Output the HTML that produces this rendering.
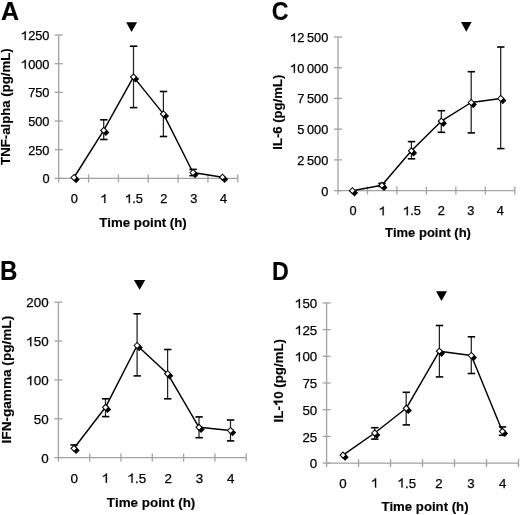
<!DOCTYPE html>
<html><head><meta charset="utf-8"><style>
html,body{margin:0;padding:0;background:#fff;}
svg{display:block;filter:grayscale(1);}
text{font-family:"Liberation Sans", sans-serif;fill:#000;font-kerning:none;stroke:#000;stroke-width:0.25px;}
text[font-weight=bold]{stroke-width:0.15px;}
path{fill:#000;stroke:#000;stroke-width:0.25px;}
</style></head><body>
<svg width="520" height="515" viewBox="0 0 520 515">
<rect width="520" height="515" fill="#fff"/>
<g><line x1="58.7" y1="35" x2="58.7" y2="182.4" stroke="#a2a2a2" stroke-width="1.3"/>
<line x1="58.7" y1="178.4" x2="237.8" y2="178.4" stroke="#a2a2a2" stroke-width="1.3"/>
<line x1="54.7" y1="178.4" x2="62.7" y2="178.4" stroke="#a2a2a2" stroke-width="1.3"/>
<text x="42.38" y="183.39" font-size="12.8">0</text>
<line x1="54.7" y1="149.72" x2="62.7" y2="149.72" stroke="#a2a2a2" stroke-width="1.3"/>
<text x="28.14" y="154.71" font-size="12.8">250</text>
<line x1="54.7" y1="121.04" x2="62.7" y2="121.04" stroke="#a2a2a2" stroke-width="1.3"/>
<text x="28.14" y="126.03" font-size="12.8">500</text>
<line x1="54.7" y1="92.36" x2="62.7" y2="92.36" stroke="#a2a2a2" stroke-width="1.3"/>
<text x="28.14" y="97.35" font-size="12.8">750</text>
<line x1="54.7" y1="63.68" x2="62.7" y2="63.68" stroke="#a2a2a2" stroke-width="1.3"/>
<text x="21.02" y="68.67" font-size="12.8"> 000</text><path d="M25.79,68.67L24.67,68.67L24.67,61.81Q24.15,62.23 23.4,62.62Q22.65,63.01 21.9,63.23L21.9,62.17Q23.09,61.73 23.93,61.08Q24.71,60.43 25.02,59.87L25.79,59.87Z"/>
<line x1="54.7" y1="35" x2="62.7" y2="35" stroke="#a2a2a2" stroke-width="1.3"/>
<text x="21.02" y="39.99" font-size="12.8"> 250</text><path d="M25.79,39.99L24.67,39.99L24.67,33.13Q24.15,33.55 23.4,33.94Q22.65,34.33 21.9,34.55L21.9,33.49Q23.09,33.05 23.93,32.4Q24.71,31.75 25.02,31.19L25.79,31.19Z"/>
<line x1="88.55" y1="174.4" x2="88.55" y2="182.4" stroke="#a2a2a2" stroke-width="1.3"/>
<line x1="118.4" y1="174.4" x2="118.4" y2="182.4" stroke="#a2a2a2" stroke-width="1.3"/>
<line x1="148.25" y1="174.4" x2="148.25" y2="182.4" stroke="#a2a2a2" stroke-width="1.3"/>
<line x1="178.1" y1="174.4" x2="178.1" y2="182.4" stroke="#a2a2a2" stroke-width="1.3"/>
<line x1="207.95" y1="174.4" x2="207.95" y2="182.4" stroke="#a2a2a2" stroke-width="1.3"/>
<line x1="237.8" y1="174.4" x2="237.8" y2="182.4" stroke="#a2a2a2" stroke-width="1.3"/>
<text x="70.77" y="203" font-size="12.8">0</text>
<text x="100.62" y="203" font-size="12.8"> </text><path d="M105.38,203L104.26,203L104.26,196.14Q103.74,196.56 102.99,196.95Q102.24,197.34 101.49,197.56L101.49,196.5Q102.68,196.06 103.52,195.41Q104.3,194.76 104.62,194.19L105.38,194.19Z"/>
<text x="125.13" y="203" font-size="12.8"> .5</text><path d="M129.9,203L128.77,203L128.77,196.14Q128.25,196.56 127.5,196.95Q126.75,197.34 126,197.56L126,196.5Q127.19,196.06 128.03,195.41Q128.82,194.76 129.13,194.19L129.9,194.19Z"/>
<text x="160.32" y="203" font-size="12.8">2</text>
<text x="190.17" y="203" font-size="12.8">3</text>
<text x="220.02" y="203" font-size="12.8">4</text>
<g transform="translate(10.1,106.6) rotate(-90)"><text x="-58.29" y="0" font-size="13.2" font-weight="bold">TNF-alpha (pg/mL)</text></g>
<text x="99.2" y="226.8" font-size="13.25" font-weight="bold">Time point (h)</text>
<text transform="translate(9.9,10.6) scale(1.0,1.0) translate(-9.45,-9.9)" x="0.6" y="19.4" font-size="25" font-weight="bold">A</text>
<polygon points="126.2,22.3 137.1,22.3 131.5,32" fill="#000"/>
<line x1="103.7" y1="119.8" x2="103.7" y2="139.5" stroke="#222" stroke-width="1.25"/>
<line x1="100.1" y1="119.8" x2="107.5" y2="119.8" stroke="#000" stroke-width="1.6"/>
<line x1="100.1" y1="139.5" x2="107.5" y2="139.5" stroke="#000" stroke-width="1.6"/>
<line x1="133.5" y1="46.2" x2="133.5" y2="107.6" stroke="#222" stroke-width="1.25"/>
<line x1="129.9" y1="46.2" x2="137.3" y2="46.2" stroke="#000" stroke-width="1.6"/>
<line x1="129.9" y1="107.6" x2="137.3" y2="107.6" stroke="#000" stroke-width="1.6"/>
<line x1="163.4" y1="91.5" x2="163.4" y2="136.5" stroke="#222" stroke-width="1.25"/>
<line x1="159.8" y1="91.5" x2="167.2" y2="91.5" stroke="#000" stroke-width="1.6"/>
<line x1="159.8" y1="136.5" x2="167.2" y2="136.5" stroke="#000" stroke-width="1.6"/>
<line x1="193" y1="169.4" x2="193" y2="175.6" stroke="#222" stroke-width="1.25"/>
<line x1="189.4" y1="169.4" x2="196.8" y2="169.4" stroke="#000" stroke-width="1.6"/>
<line x1="189.4" y1="175.6" x2="196.8" y2="175.6" stroke="#000" stroke-width="1.6"/>
<polyline points="74,177.5 103.7,130.4 133.5,76.9 163.4,113.9 193,172.5 222.5,177.2" fill="none" stroke="#000" stroke-width="1.45" stroke-linejoin="round"/>
<polygon points="72.5,179.6 76.1,176 79.7,179.6 76.1,183.2" fill="#000"/>
<polygon points="71,177.5 74,174.5 77,177.5 74,180.5" fill="#fff" stroke="#000" stroke-width="1.05"/>
<polygon points="102.2,132.5 105.8,128.9 109.4,132.5 105.8,136.1" fill="#000"/>
<polygon points="100.7,130.4 103.7,127.4 106.7,130.4 103.7,133.4" fill="#fff" stroke="#000" stroke-width="1.05"/>
<polygon points="132,79 135.6,75.4 139.2,79 135.6,82.6" fill="#000"/>
<polygon points="130.5,76.9 133.5,73.9 136.5,76.9 133.5,79.9" fill="#fff" stroke="#000" stroke-width="1.05"/>
<polygon points="161.9,116 165.5,112.4 169.1,116 165.5,119.6" fill="#000"/>
<polygon points="160.4,113.9 163.4,110.9 166.4,113.9 163.4,116.9" fill="#fff" stroke="#000" stroke-width="1.05"/>
<polygon points="191.5,174.6 195.1,171 198.7,174.6 195.1,178.2" fill="#000"/>
<polygon points="190,172.5 193,169.5 196,172.5 193,175.5" fill="#fff" stroke="#000" stroke-width="1.05"/>
<polygon points="221,179.3 224.6,175.7 228.2,179.3 224.6,182.9" fill="#000"/>
<polygon points="219.5,177.2 222.5,174.2 225.5,177.2 222.5,180.2" fill="#fff" stroke="#000" stroke-width="1.05"/></g>
<g><line x1="338" y1="37" x2="338" y2="194.6" stroke="#a2a2a2" stroke-width="1.3"/>
<line x1="338" y1="190.6" x2="514.8" y2="190.6" stroke="#a2a2a2" stroke-width="1.3"/>
<line x1="334" y1="190.6" x2="342" y2="190.6" stroke="#a2a2a2" stroke-width="1.3"/>
<text x="321.18" y="195.59" font-size="12.8">0</text>
<line x1="334" y1="159.88" x2="342" y2="159.88" stroke="#a2a2a2" stroke-width="1.3"/>
<text x="297.26" y="164.87" font-size="12.8">2 500</text>
<line x1="334" y1="129.16" x2="342" y2="129.16" stroke="#a2a2a2" stroke-width="1.3"/>
<text x="297.26" y="134.15" font-size="12.8">5 000</text>
<line x1="334" y1="98.44" x2="342" y2="98.44" stroke="#a2a2a2" stroke-width="1.3"/>
<text x="297.26" y="103.43" font-size="12.8">7 500</text>
<line x1="334" y1="67.72" x2="342" y2="67.72" stroke="#a2a2a2" stroke-width="1.3"/>
<text x="290.14" y="72.71" font-size="12.8"> 0 000</text><path d="M294.91,72.71L293.79,72.71L293.79,65.85Q293.27,66.27 292.52,66.66Q291.77,67.05 291.02,67.27L291.02,66.21Q292.21,65.77 293.05,65.12Q293.83,64.47 294.14,63.91L294.91,63.91Z"/>
<line x1="334" y1="37" x2="342" y2="37" stroke="#a2a2a2" stroke-width="1.3"/>
<text x="290.14" y="41.99" font-size="12.8"> 2 500</text><path d="M294.91,41.99L293.79,41.99L293.79,35.13Q293.27,35.55 292.52,35.94Q291.77,36.33 291.02,36.55L291.02,35.49Q292.21,35.05 293.05,34.4Q293.83,33.75 294.14,33.19L294.91,33.19Z"/>
<line x1="367.47" y1="186.6" x2="367.47" y2="194.6" stroke="#a2a2a2" stroke-width="1.3"/>
<line x1="396.93" y1="186.6" x2="396.93" y2="194.6" stroke="#a2a2a2" stroke-width="1.3"/>
<line x1="426.4" y1="186.6" x2="426.4" y2="194.6" stroke="#a2a2a2" stroke-width="1.3"/>
<line x1="455.87" y1="186.6" x2="455.87" y2="194.6" stroke="#a2a2a2" stroke-width="1.3"/>
<line x1="485.33" y1="186.6" x2="485.33" y2="194.6" stroke="#a2a2a2" stroke-width="1.3"/>
<line x1="514.8" y1="186.6" x2="514.8" y2="194.6" stroke="#a2a2a2" stroke-width="1.3"/>
<text x="349.47" y="215.3" font-size="12.8">0</text>
<text x="378.94" y="215.3" font-size="12.8"> </text><path d="M383.71,215.3L382.58,215.3L382.58,208.44Q382.07,208.86 381.32,209.25Q380.57,209.64 379.82,209.86L379.82,208.8Q381,208.36 381.85,207.71Q382.63,207.06 382.94,206.49L383.71,206.49Z"/>
<text x="403.07" y="215.3" font-size="12.8"> .5</text><path d="M407.84,215.3L406.71,215.3L406.71,208.44Q406.19,208.86 405.44,209.25Q404.69,209.64 403.94,209.86L403.94,208.8Q405.13,208.36 405.98,207.71Q406.76,207.06 407.07,206.49L407.84,206.49Z"/>
<text x="437.87" y="215.3" font-size="12.8">2</text>
<text x="467.34" y="215.3" font-size="12.8">3</text>
<text x="496.81" y="215.3" font-size="12.8">4</text>
<g transform="translate(281.8,112.2) rotate(-90)"><text x="-37.47" y="0" font-size="13.1" font-weight="bold">IL-6 (pg/mL)</text></g>
<text x="385" y="236.9" font-size="13" font-weight="bold">Time point (h)</text>
<text transform="translate(280.15,10.65) scale(0.93,1.0) translate(-280.45,-9.9)" x="271.3" y="19.4" font-size="25" font-weight="bold">C</text>
<polygon points="461,22.1 471.6,22.1 466.3,31.8" fill="#000"/>
<line x1="381.9" y1="183.4" x2="381.9" y2="186.5" stroke="#222" stroke-width="1.25"/>
<line x1="378.3" y1="183.4" x2="385.7" y2="183.4" stroke="#000" stroke-width="1.6"/>
<line x1="378.3" y1="186.5" x2="385.7" y2="186.5" stroke="#000" stroke-width="1.6"/>
<line x1="411.4" y1="141.6" x2="411.4" y2="158.8" stroke="#222" stroke-width="1.25"/>
<line x1="407.8" y1="141.6" x2="415.2" y2="141.6" stroke="#000" stroke-width="1.6"/>
<line x1="407.8" y1="158.8" x2="415.2" y2="158.8" stroke="#000" stroke-width="1.6"/>
<line x1="441.3" y1="110.7" x2="441.3" y2="132.3" stroke="#222" stroke-width="1.25"/>
<line x1="437.7" y1="110.7" x2="445.1" y2="110.7" stroke="#000" stroke-width="1.6"/>
<line x1="437.7" y1="132.3" x2="445.1" y2="132.3" stroke="#000" stroke-width="1.6"/>
<line x1="471.2" y1="71.7" x2="471.2" y2="132.9" stroke="#222" stroke-width="1.25"/>
<line x1="467.6" y1="71.7" x2="475" y2="71.7" stroke="#000" stroke-width="1.6"/>
<line x1="467.6" y1="132.9" x2="475" y2="132.9" stroke="#000" stroke-width="1.6"/>
<line x1="500.7" y1="47" x2="500.7" y2="148.6" stroke="#222" stroke-width="1.25"/>
<line x1="497.1" y1="47" x2="504.5" y2="47" stroke="#000" stroke-width="1.6"/>
<line x1="497.1" y1="148.6" x2="504.5" y2="148.6" stroke="#000" stroke-width="1.6"/>
<polyline points="352.4,190.7 381.9,185.3 411.4,150.8 441.3,121.2 471.2,102.5 500.7,98.5" fill="none" stroke="#000" stroke-width="1.45" stroke-linejoin="round"/>
<polygon points="350.9,192.8 354.5,189.2 358.1,192.8 354.5,196.4" fill="#000"/>
<polygon points="349.4,190.7 352.4,187.7 355.4,190.7 352.4,193.7" fill="#fff" stroke="#000" stroke-width="1.05"/>
<polygon points="380.4,187.4 384,183.8 387.6,187.4 384,191" fill="#000"/>
<polygon points="378.9,185.3 381.9,182.3 384.9,185.3 381.9,188.3" fill="#fff" stroke="#000" stroke-width="1.05"/>
<polygon points="409.9,152.9 413.5,149.3 417.1,152.9 413.5,156.5" fill="#000"/>
<polygon points="408.4,150.8 411.4,147.8 414.4,150.8 411.4,153.8" fill="#fff" stroke="#000" stroke-width="1.05"/>
<polygon points="439.8,123.3 443.4,119.7 447,123.3 443.4,126.9" fill="#000"/>
<polygon points="438.3,121.2 441.3,118.2 444.3,121.2 441.3,124.2" fill="#fff" stroke="#000" stroke-width="1.05"/>
<polygon points="469.7,104.6 473.3,101 476.9,104.6 473.3,108.2" fill="#000"/>
<polygon points="468.2,102.5 471.2,99.5 474.2,102.5 471.2,105.5" fill="#fff" stroke="#000" stroke-width="1.05"/>
<polygon points="499.2,100.6 502.8,97 506.4,100.6 502.8,104.2" fill="#000"/>
<polygon points="497.7,98.5 500.7,95.5 503.7,98.5 500.7,101.5" fill="#fff" stroke="#000" stroke-width="1.05"/></g>
<g><line x1="58.4" y1="302.2" x2="58.4" y2="461.6" stroke="#a2a2a2" stroke-width="1.3"/>
<line x1="58.4" y1="457.6" x2="246.2" y2="457.6" stroke="#a2a2a2" stroke-width="1.3"/>
<line x1="54.4" y1="457.6" x2="62.4" y2="457.6" stroke="#a2a2a2" stroke-width="1.3"/>
<text x="41.25" y="462.83" font-size="13.4">0</text>
<line x1="54.4" y1="418.75" x2="62.4" y2="418.75" stroke="#a2a2a2" stroke-width="1.3"/>
<text x="33.8" y="423.98" font-size="13.4">50</text>
<line x1="54.4" y1="379.9" x2="62.4" y2="379.9" stroke="#a2a2a2" stroke-width="1.3"/>
<text x="26.34" y="385.13" font-size="13.4"> 00</text><path d="M31.33,385.13L30.16,385.13L30.16,377.94Q29.61,378.39 28.83,378.79Q28.04,379.2 27.26,379.43L27.26,378.32Q28.5,377.86 29.39,377.18Q30.2,376.5 30.53,375.91L31.33,375.91Z"/>
<line x1="54.4" y1="341.05" x2="62.4" y2="341.05" stroke="#a2a2a2" stroke-width="1.3"/>
<text x="26.34" y="346.28" font-size="13.4"> 50</text><path d="M31.33,346.28L30.16,346.28L30.16,339.09Q29.61,339.54 28.83,339.94Q28.04,340.35 27.26,340.58L27.26,339.47Q28.5,339.01 29.39,338.33Q30.2,337.65 30.53,337.06L31.33,337.06Z"/>
<line x1="54.4" y1="302.2" x2="62.4" y2="302.2" stroke="#a2a2a2" stroke-width="1.3"/>
<text x="26.34" y="307.43" font-size="13.4">200</text>
<line x1="89.7" y1="453.6" x2="89.7" y2="461.6" stroke="#a2a2a2" stroke-width="1.3"/>
<line x1="121" y1="453.6" x2="121" y2="461.6" stroke="#a2a2a2" stroke-width="1.3"/>
<line x1="152.3" y1="453.6" x2="152.3" y2="461.6" stroke="#a2a2a2" stroke-width="1.3"/>
<line x1="183.6" y1="453.6" x2="183.6" y2="461.6" stroke="#a2a2a2" stroke-width="1.3"/>
<line x1="214.9" y1="453.6" x2="214.9" y2="461.6" stroke="#a2a2a2" stroke-width="1.3"/>
<line x1="246.2" y1="453.6" x2="246.2" y2="461.6" stroke="#a2a2a2" stroke-width="1.3"/>
<text x="70.62" y="482.7" font-size="13.4">0</text>
<text x="101.92" y="482.7" font-size="13.4"> </text><path d="M106.92,482.7L105.74,482.7L105.74,475.52Q105.2,475.96 104.41,476.37Q103.62,476.77 102.84,477.01L102.84,475.9Q104.08,475.44 104.97,474.75Q105.78,474.08 106.11,473.48L106.92,473.48Z"/>
<text x="127.64" y="482.7" font-size="13.4"> .5</text><path d="M132.63,482.7L131.45,482.7L131.45,475.52Q130.91,475.96 130.12,476.37Q129.34,476.77 128.55,477.01L128.55,475.9Q129.8,475.44 130.68,474.75Q131.5,474.08 131.82,473.48L132.63,473.48Z"/>
<text x="164.52" y="482.7" font-size="13.4">2</text>
<text x="195.82" y="482.7" font-size="13.4">3</text>
<text x="227.12" y="482.7" font-size="13.4">4</text>
<g transform="translate(11.2,379.6) rotate(-90)"><text x="-63.84" y="0" font-size="13.6" font-weight="bold">IFN-gamma (pg/mL)</text></g>
<text x="106.8" y="506.9" font-size="13.4" font-weight="bold">Time point (h)</text>
<text transform="translate(8.9,270.3) scale(0.91,1.07) translate(-9.65,-270.9)" x="0" y="279.6" font-size="26.5" font-weight="bold">B</text>
<polygon points="133.9,279.9 145.2,279.9 139.6,289.7" fill="#000"/>
<line x1="74" y1="444.9" x2="74" y2="448.3" stroke="#222" stroke-width="1.25"/>
<line x1="70.4" y1="444.9" x2="77.8" y2="444.9" stroke="#000" stroke-width="1.6"/>
<line x1="105.5" y1="398.8" x2="105.5" y2="416.6" stroke="#222" stroke-width="1.25"/>
<line x1="101.9" y1="398.8" x2="109.3" y2="398.8" stroke="#000" stroke-width="1.6"/>
<line x1="101.9" y1="416.6" x2="109.3" y2="416.6" stroke="#000" stroke-width="1.6"/>
<line x1="137.1" y1="313.8" x2="137.1" y2="375.9" stroke="#222" stroke-width="1.25"/>
<line x1="133.5" y1="313.8" x2="140.9" y2="313.8" stroke="#000" stroke-width="1.6"/>
<line x1="133.5" y1="375.9" x2="140.9" y2="375.9" stroke="#000" stroke-width="1.6"/>
<line x1="167.6" y1="349.5" x2="167.6" y2="398.8" stroke="#222" stroke-width="1.25"/>
<line x1="164" y1="349.5" x2="171.4" y2="349.5" stroke="#000" stroke-width="1.6"/>
<line x1="164" y1="398.8" x2="171.4" y2="398.8" stroke="#000" stroke-width="1.6"/>
<line x1="199" y1="416.9" x2="199" y2="437.7" stroke="#222" stroke-width="1.25"/>
<line x1="195.4" y1="416.9" x2="202.8" y2="416.9" stroke="#000" stroke-width="1.6"/>
<line x1="195.4" y1="437.7" x2="202.8" y2="437.7" stroke="#000" stroke-width="1.6"/>
<line x1="230.5" y1="420" x2="230.5" y2="440.9" stroke="#222" stroke-width="1.25"/>
<line x1="226.9" y1="420" x2="234.3" y2="420" stroke="#000" stroke-width="1.6"/>
<line x1="226.9" y1="440.9" x2="234.3" y2="440.9" stroke="#000" stroke-width="1.6"/>
<polyline points="74,448.3 105.5,407.3 137.1,345.5 167.6,373.7 199,427.3 230.5,430.5" fill="none" stroke="#000" stroke-width="1.45" stroke-linejoin="round"/>
<polygon points="72.5,450.4 76.1,446.8 79.7,450.4 76.1,454" fill="#000"/>
<polygon points="71,448.3 74,445.3 77,448.3 74,451.3" fill="#fff" stroke="#000" stroke-width="1.05"/>
<polygon points="104,409.4 107.6,405.8 111.2,409.4 107.6,413" fill="#000"/>
<polygon points="102.5,407.3 105.5,404.3 108.5,407.3 105.5,410.3" fill="#fff" stroke="#000" stroke-width="1.05"/>
<polygon points="135.6,347.6 139.2,344 142.8,347.6 139.2,351.2" fill="#000"/>
<polygon points="134.1,345.5 137.1,342.5 140.1,345.5 137.1,348.5" fill="#fff" stroke="#000" stroke-width="1.05"/>
<polygon points="166.1,375.8 169.7,372.2 173.3,375.8 169.7,379.4" fill="#000"/>
<polygon points="164.6,373.7 167.6,370.7 170.6,373.7 167.6,376.7" fill="#fff" stroke="#000" stroke-width="1.05"/>
<polygon points="197.5,429.4 201.1,425.8 204.7,429.4 201.1,433" fill="#000"/>
<polygon points="196,427.3 199,424.3 202,427.3 199,430.3" fill="#fff" stroke="#000" stroke-width="1.05"/>
<polygon points="229,432.6 232.6,429 236.2,432.6 232.6,436.2" fill="#000"/>
<polygon points="227.5,430.5 230.5,427.5 233.5,430.5 230.5,433.5" fill="#fff" stroke="#000" stroke-width="1.05"/></g>
<g><line x1="326.6" y1="302.9" x2="326.6" y2="467.1" stroke="#a2a2a2" stroke-width="1.3"/>
<line x1="326.6" y1="463.1" x2="518.5" y2="463.1" stroke="#a2a2a2" stroke-width="1.3"/>
<line x1="322.6" y1="463.1" x2="330.6" y2="463.1" stroke="#a2a2a2" stroke-width="1.3"/>
<text x="309.8" y="468.29" font-size="13.3">0</text>
<line x1="322.6" y1="436.4" x2="330.6" y2="436.4" stroke="#a2a2a2" stroke-width="1.3"/>
<text x="302.41" y="441.59" font-size="13.3">25</text>
<line x1="322.6" y1="409.7" x2="330.6" y2="409.7" stroke="#a2a2a2" stroke-width="1.3"/>
<text x="302.41" y="414.89" font-size="13.3">50</text>
<line x1="322.6" y1="383" x2="330.6" y2="383" stroke="#a2a2a2" stroke-width="1.3"/>
<text x="302.41" y="388.19" font-size="13.3">75</text>
<line x1="322.6" y1="356.3" x2="330.6" y2="356.3" stroke="#a2a2a2" stroke-width="1.3"/>
<text x="295.01" y="361.49" font-size="13.3"> 00</text><path d="M299.96,361.49L298.8,361.49L298.8,354.36Q298.26,354.8 297.48,355.2Q296.7,355.6 295.92,355.84L295.92,354.73Q297.15,354.28 298.03,353.6Q298.84,352.93 299.17,352.34L299.96,352.34Z"/>
<line x1="322.6" y1="329.6" x2="330.6" y2="329.6" stroke="#a2a2a2" stroke-width="1.3"/>
<text x="295.01" y="334.79" font-size="13.3"> 25</text><path d="M299.96,334.79L298.8,334.79L298.8,327.66Q298.26,328.1 297.48,328.5Q296.7,328.9 295.92,329.14L295.92,328.03Q297.15,327.58 298.03,326.9Q298.84,326.23 299.17,325.64L299.96,325.64Z"/>
<line x1="322.6" y1="302.9" x2="330.6" y2="302.9" stroke="#a2a2a2" stroke-width="1.3"/>
<text x="295.01" y="308.09" font-size="13.3"> 50</text><path d="M299.96,308.09L298.8,308.09L298.8,300.96Q298.26,301.4 297.48,301.8Q296.7,302.2 295.92,302.44L295.92,301.33Q297.15,300.88 298.03,300.2Q298.84,299.53 299.17,298.94L299.96,298.94Z"/>
<line x1="358.58" y1="459.1" x2="358.58" y2="467.1" stroke="#a2a2a2" stroke-width="1.3"/>
<line x1="390.57" y1="459.1" x2="390.57" y2="467.1" stroke="#a2a2a2" stroke-width="1.3"/>
<line x1="422.55" y1="459.1" x2="422.55" y2="467.1" stroke="#a2a2a2" stroke-width="1.3"/>
<line x1="454.53" y1="459.1" x2="454.53" y2="467.1" stroke="#a2a2a2" stroke-width="1.3"/>
<line x1="486.52" y1="459.1" x2="486.52" y2="467.1" stroke="#a2a2a2" stroke-width="1.3"/>
<line x1="518.5" y1="459.1" x2="518.5" y2="467.1" stroke="#a2a2a2" stroke-width="1.3"/>
<text x="339.19" y="487.5" font-size="13.3">0</text>
<text x="371.18" y="487.5" font-size="13.3"> </text><path d="M376.13,487.5L374.96,487.5L374.96,480.37Q374.42,480.81 373.64,481.21Q372.87,481.62 372.09,481.85L372.09,480.75Q373.32,480.29 374.2,479.61Q375.01,478.94 375.33,478.35L376.13,478.35Z"/>
<text x="397.61" y="487.5" font-size="13.3"> .5</text><path d="M402.57,487.5L401.4,487.5L401.4,480.37Q400.86,480.81 400.08,481.21Q399.3,481.62 398.52,481.85L398.52,480.75Q399.76,480.29 400.63,479.61Q401.45,478.94 401.77,478.35L402.57,478.35Z"/>
<text x="435.14" y="487.5" font-size="13.3">2</text>
<text x="467.13" y="487.5" font-size="13.3">3</text>
<text x="499.11" y="487.5" font-size="13.3">4</text>
<g transform="translate(282.8,380.7) rotate(-90)"><text x="-41.74" y="0" font-size="13.3" font-weight="bold">IL- 0 (pg/mL)</text><path d="M-20.07,0L-21.9,0L-21.9,-6.59Q-22.9,-5.69 -24.26,-5.26L-24.26,-6.84Q-23.54,-7.07 -22.7,-7.69Q-21.87,-8.31 -21.55,-9.15L-20.07,-9.15Z"/></g>
<text x="381.4" y="510.7" font-size="13.2" font-weight="bold">Time point (h)</text>
<text transform="translate(280.6,270.15) scale(0.91,1.03) translate(-280.45,-269.85)" x="271" y="279.4" font-size="25.5" font-weight="bold">D</text>
<polygon points="436,291.3 447,291.3 441.5,300.9" fill="#000"/>
<line x1="374.7" y1="427.7" x2="374.7" y2="439.1" stroke="#222" stroke-width="1.25"/>
<line x1="371.1" y1="427.7" x2="378.5" y2="427.7" stroke="#000" stroke-width="1.6"/>
<line x1="371.1" y1="439.1" x2="378.5" y2="439.1" stroke="#000" stroke-width="1.6"/>
<line x1="406.2" y1="392.3" x2="406.2" y2="424.9" stroke="#222" stroke-width="1.25"/>
<line x1="402.6" y1="392.3" x2="410" y2="392.3" stroke="#000" stroke-width="1.6"/>
<line x1="402.6" y1="424.9" x2="410" y2="424.9" stroke="#000" stroke-width="1.6"/>
<line x1="439.4" y1="325.5" x2="439.4" y2="376.9" stroke="#222" stroke-width="1.25"/>
<line x1="435.8" y1="325.5" x2="443.2" y2="325.5" stroke="#000" stroke-width="1.6"/>
<line x1="435.8" y1="376.9" x2="443.2" y2="376.9" stroke="#000" stroke-width="1.6"/>
<line x1="471.3" y1="336.8" x2="471.3" y2="373.5" stroke="#222" stroke-width="1.25"/>
<line x1="467.7" y1="336.8" x2="475.1" y2="336.8" stroke="#000" stroke-width="1.6"/>
<line x1="467.7" y1="373.5" x2="475.1" y2="373.5" stroke="#000" stroke-width="1.6"/>
<line x1="502.4" y1="426.9" x2="502.4" y2="435.3" stroke="#222" stroke-width="1.25"/>
<line x1="498.8" y1="426.9" x2="506.2" y2="426.9" stroke="#000" stroke-width="1.6"/>
<line x1="498.8" y1="435.3" x2="506.2" y2="435.3" stroke="#000" stroke-width="1.6"/>
<polyline points="343,455.1 374.7,433 406.2,408.3 439.4,351.2 471.3,355.5 502.4,431.3" fill="none" stroke="#000" stroke-width="1.45" stroke-linejoin="round"/>
<polygon points="341.5,457.2 345.1,453.6 348.7,457.2 345.1,460.8" fill="#000"/>
<polygon points="340,455.1 343,452.1 346,455.1 343,458.1" fill="#fff" stroke="#000" stroke-width="1.05"/>
<polygon points="373.2,435.1 376.8,431.5 380.4,435.1 376.8,438.7" fill="#000"/>
<polygon points="371.7,433 374.7,430 377.7,433 374.7,436" fill="#fff" stroke="#000" stroke-width="1.05"/>
<polygon points="404.7,410.4 408.3,406.8 411.9,410.4 408.3,414" fill="#000"/>
<polygon points="403.2,408.3 406.2,405.3 409.2,408.3 406.2,411.3" fill="#fff" stroke="#000" stroke-width="1.05"/>
<polygon points="437.9,353.3 441.5,349.7 445.1,353.3 441.5,356.9" fill="#000"/>
<polygon points="436.4,351.2 439.4,348.2 442.4,351.2 439.4,354.2" fill="#fff" stroke="#000" stroke-width="1.05"/>
<polygon points="469.8,357.6 473.4,354 477,357.6 473.4,361.2" fill="#000"/>
<polygon points="468.3,355.5 471.3,352.5 474.3,355.5 471.3,358.5" fill="#fff" stroke="#000" stroke-width="1.05"/>
<polygon points="500.9,433.4 504.5,429.8 508.1,433.4 504.5,437" fill="#000"/>
<polygon points="499.4,431.3 502.4,428.3 505.4,431.3 502.4,434.3" fill="#fff" stroke="#000" stroke-width="1.05"/></g>
</svg>
</body></html>
